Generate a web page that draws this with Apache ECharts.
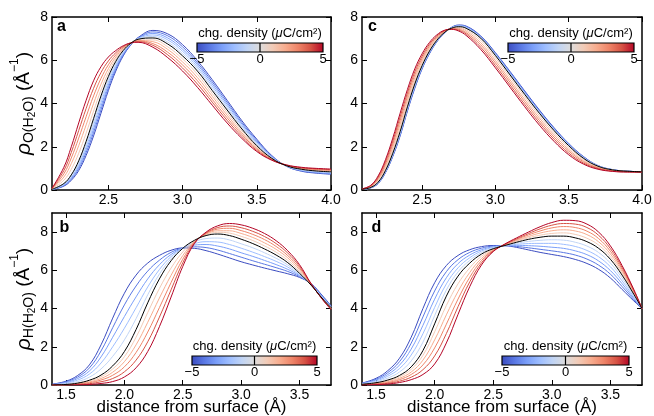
<!DOCTYPE html>
<html><head><meta charset="utf-8">
<script src="https://cdn.jsdelivr.net/npm/echarts@6/dist/echarts.min.js"></script>
<style>html,body{margin:0;padding:0;background:#fff}#c{width:654px;height:416px}</style>
</head><body><div id="c"></div>
<script>
// charge densities (μC/cm²) of the 11 curves in every panel
const charges = [-5,-4,-3,-2,-1,0,1,2,3,4,5];

// each row: [distance (Å), value for charge -5, -4, ..., 5]
const rowsA = [
[2.12,.02,.02,.02,.03,.03,.03,.04,.05,.06,.07,.08],
[2.2,.18,.2,.23,.25,.28,.3,.45,.6,.75,.9,1.05],
[2.25,.45,.5,.55,.6,.65,.7,.96,1.22,1.48,1.74,2.0],
[2.3,.9,.99,1.08,1.17,1.26,1.35,1.7,2.05,2.4,2.75,3.1],
[2.35,1.6,1.73,1.86,1.99,2.12,2.25,2.63,3.01,3.39,3.77,4.15],
[2.4,2.5,2.66,2.82,2.98,3.14,3.3,3.65,4.0,4.35,4.7,5.05],
[2.45,3.55,3.71,3.87,4.03,4.19,4.35,4.62,4.89,5.16,5.43,5.7],
[2.5,4.6,4.73,4.86,4.99,5.12,5.25,5.43,5.61,5.79,5.97,6.15],
[2.55,5.5,5.59,5.68,5.77,5.86,5.95,6.05,6.15,6.25,6.35,6.45],
[2.6,6.2,6.25,6.3,6.35,6.4,6.45,6.49,6.54,6.58,6.63,6.67],
[2.65,6.7,6.72,6.73,6.75,6.76,6.78,6.78,6.79,6.79,6.8,6.8],
[2.7,7.05,7.03,7.02,7.0,6.99,6.97,6.94,6.91,6.89,6.86,6.83],
[2.8,7.38,7.31,7.24,7.17,7.1,7.03,6.94,6.86,6.77,6.69,6.6],
[2.9,7.22,7.13,7.03,6.94,6.84,6.75,6.62,6.5,6.37,6.25,6.12],
[3.0,6.72,6.62,6.51,6.41,6.3,6.2,6.06,5.92,5.78,5.64,5.5],
[3.1,5.98,5.88,5.79,5.69,5.6,5.5,5.35,5.2,5.05,4.9,4.75],
[3.2,5.1,5.0,4.9,4.8,4.7,4.6,4.46,4.33,4.19,4.06,3.92],
[3.3,4.15,4.06,3.97,3.88,3.79,3.7,3.58,3.46,3.34,3.22,3.1],
[3.4,3.2,3.12,3.05,2.97,2.9,2.82,2.73,2.64,2.56,2.47,2.38],
[3.5,2.35,2.29,2.23,2.17,2.11,2.05,2.0,1.94,1.89,1.83,1.78],
[3.6,1.6,1.57,1.55,1.52,1.5,1.47,1.45,1.44,1.42,1.4,1.38],
[3.7,1.1,1.1,1.11,1.11,1.12,1.12,1.13,1.14,1.14,1.15,1.16],
[3.8,.87,.89,.91,.92,.94,.96,.98,.99,1.01,1.03,1.05],
[3.9,.78,.8,.82,.84,.86,.88,.9,.93,.95,.98,1.0],
[4.0,.73,.75,.77,.8,.82,.84,.87,.89,.92,.94,.97]
];
const rowsC = [
[2.09,.02,.02,.02,.03,.03,.03,.04,.04,.04,.05,.05],
[2.15,.1,.1,.11,.11,.12,.12,.14,.16,.18,.2,.22],
[2.2,.3,.31,.32,.34,.35,.36,.42,.48,.53,.59,.65],
[2.25,.8,.82,.84,.86,.88,.9,1.0,1.1,1.2,1.3,1.4],
[2.3,1.55,1.58,1.61,1.64,1.67,1.7,1.84,1.98,2.12,2.26,2.4],
[2.35,2.5,2.54,2.58,2.62,2.66,2.7,2.87,3.04,3.21,3.38,3.55],
[2.4,3.65,3.69,3.73,3.77,3.81,3.85,4.01,4.17,4.33,4.49,4.65],
[2.45,4.7,4.74,4.78,4.82,4.86,4.9,5.04,5.18,5.32,5.46,5.6],
[2.5,5.6,5.63,5.66,5.69,5.72,5.75,5.86,5.97,6.08,6.19,6.3],
[2.55,6.3,6.32,6.35,6.37,6.4,6.42,6.5,6.58,6.66,6.74,6.82],
[2.6,6.85,6.86,6.88,6.89,6.91,6.92,6.97,7.02,7.07,7.12,7.17],
[2.65,7.25,7.25,7.26,7.26,7.27,7.27,7.29,7.31,7.34,7.36,7.38],
[2.7,7.52,7.51,7.5,7.5,7.49,7.48,7.47,7.46,7.45,7.44,7.43],
[2.75,7.63,7.61,7.6,7.58,7.57,7.55,7.51,7.47,7.43,7.39,7.35],
[2.8,7.58,7.56,7.54,7.52,7.5,7.48,7.41,7.35,7.28,7.22,7.15],
[2.9,7.12,7.1,7.08,7.06,7.04,7.02,6.92,6.81,6.71,6.6,6.5],
[3.0,6.35,6.32,6.3,6.27,6.25,6.22,6.11,5.99,5.88,5.76,5.65],
[3.1,5.48,5.45,5.42,5.38,5.35,5.32,5.21,5.09,4.98,4.86,4.75],
[3.2,4.58,4.55,4.52,4.48,4.45,4.42,4.31,4.19,4.08,3.96,3.85],
[3.3,3.7,3.67,3.64,3.61,3.58,3.55,3.44,3.33,3.22,3.11,3.0],
[3.4,2.88,2.85,2.83,2.8,2.78,2.75,2.65,2.55,2.45,2.35,2.25],
[3.5,2.15,2.13,2.11,2.09,2.07,2.05,1.97,1.88,1.8,1.71,1.63],
[3.6,1.55,1.53,1.52,1.5,1.49,1.47,1.42,1.36,1.31,1.25,1.2],
[3.7,1.13,1.12,1.12,1.11,1.11,1.1,1.07,1.04,1.02,.99,.96],
[3.8,.94,.94,.94,.93,.93,.93,.92,.9,.89,.87,.86],
[3.9,.87,.87,.87,.87,.87,.87,.86,.85,.85,.84,.83],
[4.0,.84,.84,.84,.84,.84,.84,.84,.84,.83,.83,.83]
];
const rowsB = [
[1.38,.04,.03,.02,.02,.01,0,0,0,0,0,0],
[1.5,.2,.17,.13,.1,.06,.03,.02,.02,.01,.01,0],
[1.6,.5,.42,.34,.26,.18,.1,.08,.06,.05,.03,.01],
[1.7,1.05,.89,.73,.57,.41,.25,.21,.16,.12,.07,.03],
[1.8,2.1,1.78,1.47,1.15,.84,.52,.43,.34,.26,.17,.08],
[1.9,3.5,3.0,2.5,2.0,1.5,1.0,.84,.67,.51,.34,.18],
[2.0,4.8,4.19,3.58,2.97,2.36,1.75,1.48,1.22,.95,.69,.42],
[2.1,5.75,5.18,4.61,4.04,3.47,2.9,2.5,2.1,1.7,1.3,.9],
[2.2,6.38,5.96,5.55,5.13,4.72,4.3,3.79,3.28,2.77,2.26,1.75],
[2.3,6.78,6.53,6.29,6.04,5.8,5.55,5.05,4.55,4.05,3.55,3.05],
[2.4,7.05,6.94,6.83,6.72,6.61,6.5,6.12,5.74,5.36,4.98,4.6],
[2.5,7.17,7.17,7.16,7.16,7.15,7.15,6.96,6.77,6.58,6.39,6.2],
[2.6,7.15,7.23,7.32,7.4,7.49,7.57,7.54,7.5,7.47,7.43,7.4],
[2.7,7.03,7.19,7.35,7.5,7.66,7.82,7.86,7.89,7.93,7.96,8.0],
[2.8,6.85,7.06,7.27,7.48,7.69,7.9,7.99,8.07,8.16,8.24,8.33],
[2.9,6.65,6.88,7.12,7.35,7.59,7.82,7.95,8.07,8.2,8.32,8.45],
[3.0,6.45,6.69,6.92,7.16,7.39,7.63,7.78,7.93,8.08,8.23,8.38],
[3.1,6.28,6.5,6.73,6.95,7.18,7.4,7.56,7.72,7.88,8.04,8.2],
[3.2,6.12,6.32,6.52,6.72,6.92,7.12,7.28,7.44,7.61,7.77,7.93],
[3.3,5.97,6.14,6.3,6.47,6.63,6.8,6.95,7.1,7.25,7.4,7.55],
[3.4,5.82,5.94,6.05,6.17,6.28,6.4,6.52,6.65,6.77,6.9,7.02],
[3.5,5.63,5.67,5.72,5.76,5.81,5.85,5.94,6.03,6.12,6.21,6.3],
[3.6,5.3,5.28,5.27,5.25,5.24,5.22,5.24,5.25,5.27,5.28,5.3],
[3.7,4.65,4.62,4.59,4.56,4.53,4.5,4.49,4.48,4.47,4.46,4.45],
[3.77,4.15,4.13,4.11,4.09,4.07,4.05,4.03,4.01,3.99,3.97,3.95]
];
const rowsD = [
[1.38,.1,.09,.08,.06,.05,.04,.03,.02,.02,.01,0],
[1.5,.35,.3,.26,.21,.17,.12,.1,.08,.06,.04,.02],
[1.6,.75,.65,.55,.46,.36,.26,.22,.18,.13,.09,.05],
[1.7,1.4,1.22,1.04,.86,.68,.5,.43,.35,.28,.2,.13],
[1.8,2.5,2.19,1.88,1.57,1.26,.95,.82,.68,.55,.41,.28],
[1.9,4.0,3.56,3.12,2.68,2.24,1.8,1.55,1.3,1.05,.8,.55],
[2.0,5.35,4.92,4.49,4.06,3.63,3.2,2.78,2.36,1.94,1.52,1.1],
[2.1,6.25,5.93,5.61,5.29,4.97,4.65,4.16,3.67,3.18,2.69,2.2],
[2.2,6.78,6.56,6.35,6.13,5.92,5.7,5.3,4.9,4.5,4.1,3.7],
[2.3,7.08,6.94,6.8,6.66,6.52,6.38,6.13,5.89,5.64,5.4,5.15],
[2.4,7.24,7.16,7.08,7.01,6.93,6.85,6.74,6.62,6.51,6.39,6.28],
[2.5,7.3,7.27,7.23,7.2,7.16,7.13,7.1,7.07,7.04,7.01,6.98],
[2.6,7.29,7.29,7.29,7.3,7.3,7.3,7.32,7.33,7.35,7.36,7.38],
[2.7,7.2,7.25,7.31,7.36,7.42,7.47,7.52,7.56,7.61,7.65,7.7],
[2.8,7.07,7.18,7.29,7.4,7.51,7.62,7.7,7.77,7.85,7.92,8.0],
[2.9,6.94,7.1,7.26,7.41,7.57,7.73,7.84,7.95,8.06,8.17,8.28],
[3.0,6.83,7.02,7.21,7.41,7.6,7.79,7.93,8.07,8.22,8.36,8.5],
[3.1,6.72,6.93,7.15,7.36,7.58,7.79,7.96,8.12,8.29,8.45,8.62],
[3.2,6.57,6.8,7.02,7.25,7.47,7.7,7.88,8.06,8.24,8.42,8.6],
[3.3,6.36,6.59,6.82,7.04,7.27,7.5,7.68,7.87,8.05,8.24,8.42],
[3.4,6.05,6.27,6.49,6.71,6.93,7.15,7.32,7.49,7.66,7.83,8.0],
[3.5,5.6,5.8,5.99,6.19,6.38,6.58,6.72,6.86,7.0,7.14,7.28],
[3.6,5.0,5.15,5.3,5.45,5.6,5.75,5.85,5.95,6.05,6.15,6.25],
[3.7,4.4,4.47,4.54,4.61,4.68,4.75,4.8,4.85,4.9,4.95,5.0],
[3.77,4.0,4.0,4.0,4.0,4.0,4.0,4.0,4.0,4.0,4.0,4.0]
];

const xTicksAC = [2.5, 3.0, 3.5, 4.0];
const xTicksBD = [1.5, 2.0, 2.5, 3.0, 3.5];
const yTicks = [0, 2, 4, 6, 8];
const cbarTicks = [-5, 0, 5];
const xTitle = 'distance from surface (Å)';
const cbarTitle = 'chg. density ({i|μ}C/cm²)';

const FONT = '"Liberation Sans", Arial, Helvetica, sans-serif';
const palette = ['#3b4cc0','#5977e3','#7b9ff9','#9ebeff','#c0d4f5','#000000','#f2cbb7','#f7ac8e','#ee8468','#d65244','#b40426'];
const cbarColors = ['#3b4cc0','#5977e3','#7b9ff9','#9ebeff','#c0d4f5','#dddcdc','#f2cbb7','#f7ac8e','#ee8468','#d65244','#b40426'];

const panels = [
  {letter:'a', rows:rowsA, grid:{left:52, top:17, width:279, height:173}, xmin:2.12, xmax:4.0, ymax:8, xt:xTicksAC,
   yname:'{r|ρ}{s|O(H}{s2|2}{s|O)}{n| (Å}{p|−1}{n|)}', xname:'', letterPos:[57,26.5], cbar:[197,43,126,9], cbarTitleY:33},
  {letter:'c', rows:rowsC, grid:{left:362, top:17, width:280, height:173}, xmin:2.09, xmax:4.0, ymax:8, xt:xTicksAC,
   yname:'', xname:'', letterPos:[368,26.5], cbar:[508,43,126,9], cbarTitleY:33},
  {letter:'b', rows:rowsB, grid:{left:52, top:213, width:279, height:172}, xmin:1.38, xmax:3.77, ymax:9, xt:xTicksBD,
   yname:'{r|ρ}{s|H(H}{s2|2}{s|O)}{n| (Å}{p|−1}{n|)}', xname:xTitle, letterPos:[59.5,227.5], cbar:[192,356,125,9], cbarTitleY:346.5},
  {letter:'d', rows:rowsD, grid:{left:362, top:213, width:280, height:172}, xmin:1.38, xmax:3.77, ymax:9, xt:xTicksBD,
   yname:'', xname:xTitle, letterPos:[371.5,227.5], cbar:[502,356,127,9], cbarTitleY:346.5}
];

const yNameRich = {
  r:{fontSize:21, fontStyle:'italic', fontFamily:FONT, color:'#000', lineHeight:30, verticalAlign:'middle'},
  s:{fontSize:14, fontFamily:FONT, color:'#000', lineHeight:14, padding:[0,0,3,0], verticalAlign:'bottom'},
  s2:{fontSize:10, fontFamily:FONT, color:'#000', lineHeight:10, padding:[0,0,1.5,0], verticalAlign:'bottom'},
  n:{fontSize:19, fontFamily:FONT, color:'#000', lineHeight:30, verticalAlign:'middle'},
  p:{fontSize:12, fontFamily:FONT, color:'#000', lineHeight:12, verticalAlign:'top'}
};

const axLine = {show:true, onZero:false, lineStyle:{color:'#000', width:1.5}};
const tickStyle = {color:'#000', width:1};

const grids = [], xAxes = [], yAxes = [], datasets = [], series = [], graphics = [];

panels.forEach((p, i) => {
  grids.push(Object.assign({show:false, containLabel:false, outerBoundsMode:'none'}, p.grid));
  datasets.push({source:p.rows});
  [false, true].forEach(top => {
    xAxes.push({
      type:'value', gridIndex:i, position: top ? 'top' : 'bottom', min:p.xmin, max:p.xmax,
      axisLine:axLine, splitLine:{show:false},
      axisTick:{show:true, inside:true, length:5, customValues:p.xt, lineStyle:tickStyle},
      axisLabel: top ? {show:false} : {show:true, customValues:p.xt, formatter:v => v.toFixed(1),
        fontSize:14, color:'#000', fontFamily:FONT, margin:3},
      name: top ? '' : p.xname, nameLocation:'middle', nameGap:14, nameMoveOverlap:false,
      nameTextStyle:{fontSize:17, color:'#000', fontFamily:FONT}
    });
  });
  [false, true].forEach(right => {
    yAxes.push({
      type:'value', gridIndex:i, position: right ? 'right' : 'left', min:0, max:p.ymax,
      axisLine:axLine, splitLine:{show:false},
      axisTick:{show:true, inside:true, length:5, customValues:yTicks, lineStyle:tickStyle},
      axisLabel: right ? {show:false} : {show:true, customValues:yTicks, fontSize:14, color:'#000', fontFamily:FONT, margin:4},
      name: right ? '' : p.yname, nameLocation:'middle', nameRotate:90, nameGap:13, nameMoveOverlap:false,
      nameTextStyle:{rich:yNameRich, fontFamily:FONT, color:'#000'}
    });
  });
  charges.forEach((c, k) => {
    series.push({
      type:'line', xAxisIndex:2*i, yAxisIndex:2*i, datasetIndex:i, encode:{x:0, y:k+1},
      showSymbol:false, symbol:'none', smooth:0.4, silent:true, clip:true,
      lineStyle:{color:palette[k], width:1}, z: c === 0 ? 4 : 2
    });
  });

  // panel letter
  graphics.push({type:'text', x:p.letterPos[0], y:p.letterPos[1], z:10,
    style:{text:p.letter, fill:'#000', fontSize:16, fontWeight:'bold', fontFamily:FONT, align:'left', verticalAlign:'middle'}});
  // colorbar
  const [bx, by, bw, bh] = p.cbar;
  graphics.push({type:'rect', z:10, shape:{x:bx, y:by, width:bw, height:bh},
    style:{fill:{type:'linear', x:0, y:0, x2:1, y2:0,
      colorStops:cbarColors.map((col, j) => ({offset:j/(cbarColors.length-1), color:col}))},
      stroke:'#000', lineWidth:1.2}});
  graphics.push({type:'line', z:11, shape:{x1:bx+bw/2, y1:by, x2:bx+bw/2, y2:by+bh}, style:{stroke:'#000', lineWidth:1.2}});
  graphics.push({type:'text', z:10, x:bx+bw/2, y:p.cbarTitleY,
    style:{text:cbarTitle, fill:'#000', fontSize:13, fontFamily:FONT, align:'center', verticalAlign:'middle',
      rich:{i:{fontStyle:'italic', fontSize:13, fontFamily:FONT, fill:'#000'}}}});
  cbarTicks.forEach(t => {
    const tx = bx + (t - cbarTicks[0]) / (cbarTicks[cbarTicks.length-1] - cbarTicks[0]) * bw;
    graphics.push({type:'text', z:10, x:tx, y:by+bh+1,
      style:{text:String(t).replace('-', '\u2212'), fill:'#000', fontSize:13, fontFamily:FONT, align:'center', verticalAlign:'top'}});
  });
});

const chart = echarts.init(document.getElementById('c'), null, {renderer:'canvas', width:654, height:416});
chart.setOption({
  animation:false,
  backgroundColor:'#fff',
  grid:grids, xAxis:xAxes, yAxis:yAxes, dataset:datasets, series:series, graphic:graphics
});
</script>
</body></html>
